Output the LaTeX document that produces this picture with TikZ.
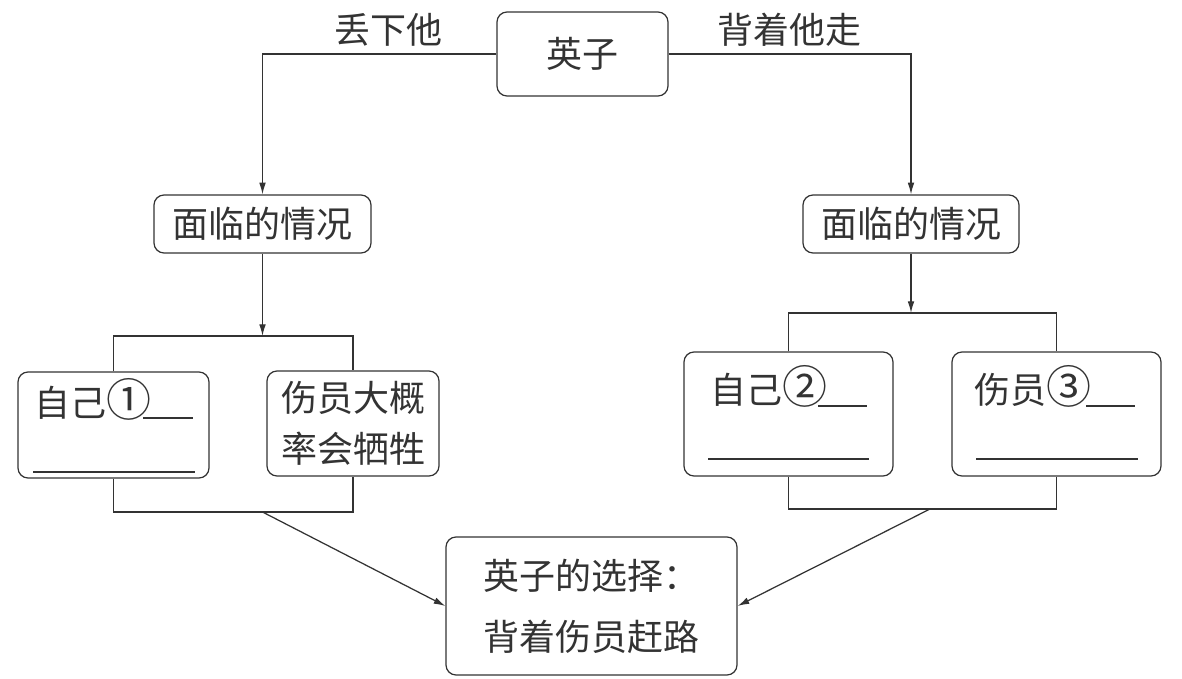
\documentclass[tikz,border=0pt]{standalone}
\usepackage{fontspec}
\usepackage{graphicx}
\setmainfont{Noto Sans CJK SC}
\usetikzlibrary{arrows.meta}
\newcommand{\pxu}{0.6pt}
\newcommand{\qnum}[1]{\scalebox{1.25}{#1}}
\definecolor{ink}{HTML}{333333}
\tikzset{
  box/.style={draw=ink, rounded corners=6pt, inner sep=0pt},
  arr/.style={-{Latex[length=7pt,width=4pt]}},
}

\begin{document}
\begin{tikzpicture}[x=0.6pt, y=-0.6pt, line width=0.75pt, color=ink, font=\fontsize{21.6}{30}\selectfont]
    \useasboundingbox (0,0) rectangle (1182,679);
    % top part
    \node[box, minimum width=171*\pxu, minimum height=84*\pxu] (yz) at (582.5,54) {英子};
    \node[box, minimum width=217*\pxu, minimum height=58*\pxu] (ql) at (262.5,224) {面临的情况};
    \node[box, minimum width=216*\pxu, minimum height=58*\pxu] (qr) at (911,224) {面临的情况};
    \draw[arr] (yz.west) -| node[pos=0.23, above=1pt]{丢下他} (ql.north);
    \draw[arr] (yz.east) -| node[pos=0.25, above=1pt]{背着他走} (qr.north);
    % left pair
    \node[box, minimum width=191*\pxu, minimum height=106*\pxu] (l1) at (113.5,425) {};
    \node[anchor=west, inner sep=0pt] (l1t) at (34,399) {自己\qnum{①}};
    \draw (143,418) -- (193,418) (33,472) -- (195,472);
    \node[box, minimum width=172*\pxu, minimum height=105*\pxu, align=left,
          font=\fontsize{21.6}{30.6}\selectfont] (l2) at (353,423.5) {伤员大概\\率会牺牲};
    % right pair
    \node[box, minimum width=209*\pxu, minimum height=124*\pxu] (r1) at (788.5,414) {};
    \node[anchor=west, inner sep=0pt] (r1t) at (710,386) {自己\qnum{②}};
    \draw (818,406) -- (867,406) (708,459) -- (869,459);
    \node[box, minimum width=209*\pxu, minimum height=124*\pxu] (r2) at (1056.5,414) {};
    \node[anchor=west, inner sep=0pt] (r2t) at (974,386) {伤员\qnum{③}};
    \draw (1086,406) -- (1135,406) (976,459) -- (1138,459);
    % choice
    \node[box, minimum width=291*\pxu, minimum height=138*\pxu, align=left,
          font=\fontsize{21.6}{36.6}\selectfont] (xz) at (591.5,606) {英子的选择：\\背着伤员赶路};
    % brackets
    \coordinate (lt) at (ql.south |- 0,336);
    \coordinate (lb) at (ql.south |- 0,512);
    \draw[arr] (ql.south) -- (lt);
    \draw (l1.north) |- (lt) -| (l2.north);
    \draw (l1.south) |- (lb) -| (l2.south);
    \draw[arr] (lb) -- (xz.west);
    \coordinate (rt) at (qr.south |- 0,313);
    \coordinate (rb) at (930,509);
    \draw[arr] (qr.south) -- (rt);
    \draw (r1.north) |- (rt) -| (r2.north);
    \draw (r1.south) |- (rb) -| (r2.south);
    \draw[arr] (rb) -- (xz.east);
\end{tikzpicture}
\end{document}
